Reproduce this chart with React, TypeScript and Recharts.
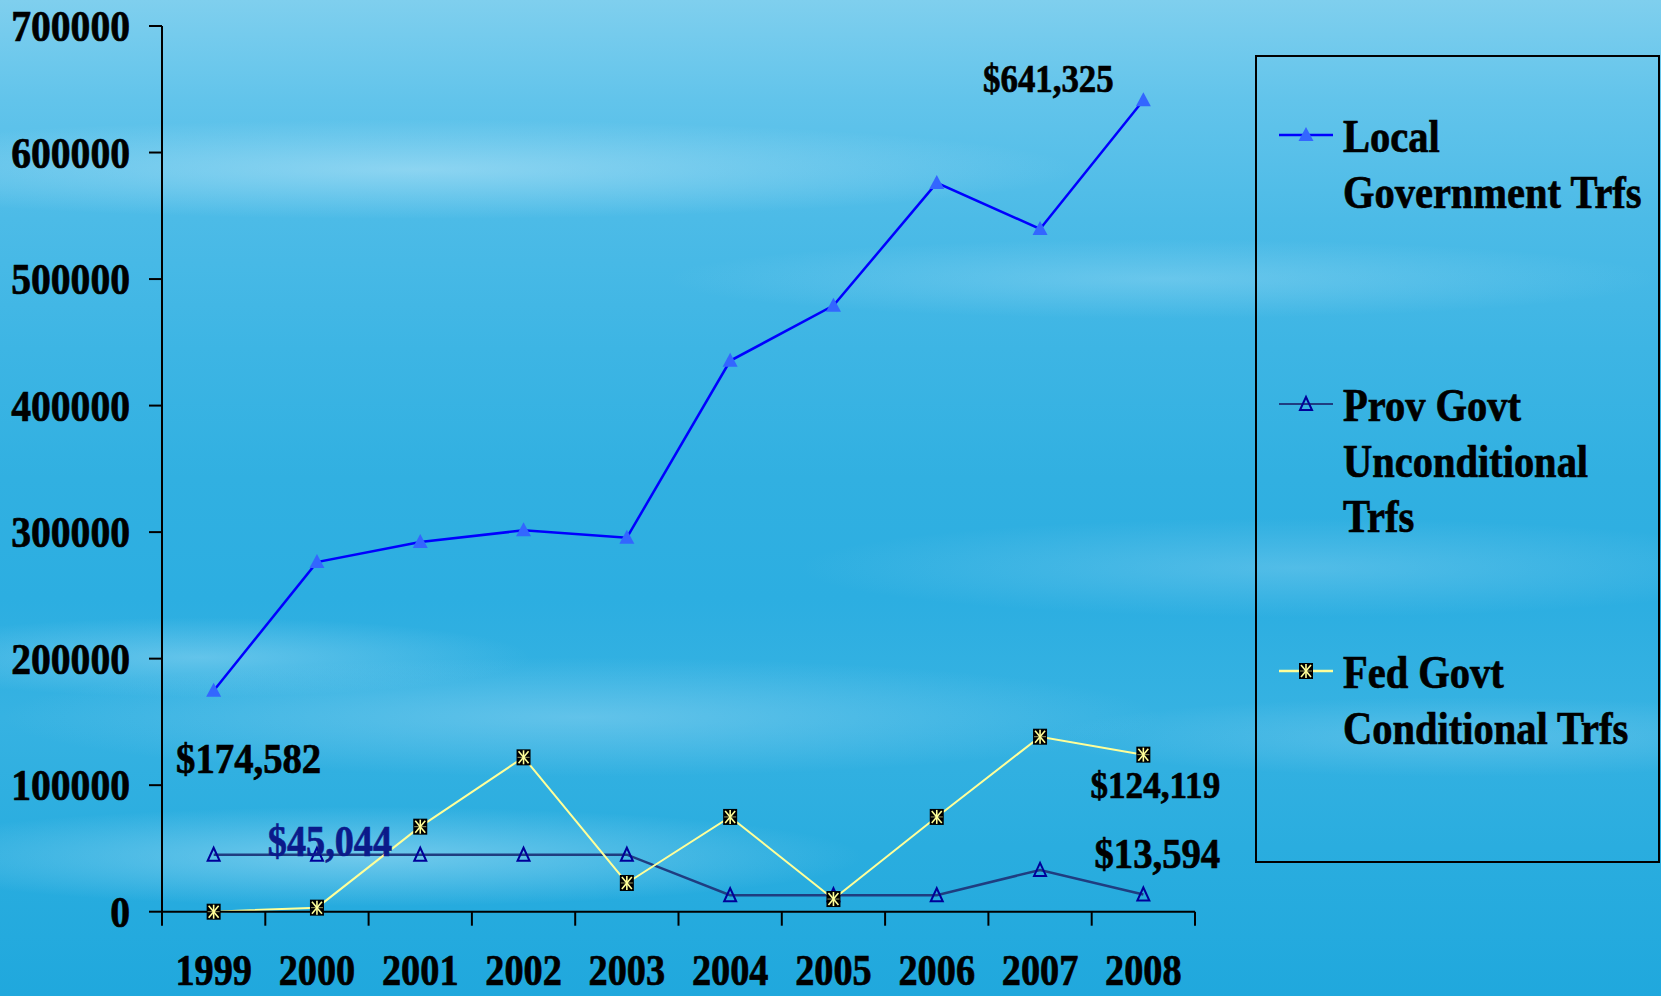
import React from 'react';
import { LineChart, Line, XAxis, YAxis, LabelList } from 'recharts';

// ---------- data ----------
const years = ['1999', '2000', '2001', '2002', '2003', '2004', '2005', '2006', '2007', '2008'];
const localGovtTrfs = [174582, 276300, 292200, 301400, 295600, 435400, 479000, 576000, 539600, 641325];
const provGovtUncondTrfs = [45044, 45044, 45044, 45044, 45044, 13000, 13000, 13000, 33000, 13594];
const fedGovtCondTrfs = [0, 3200, 67200, 122000, 22700, 74900, 10000, 74900, 138300, 124119];
const yTicks = [0, 100000, 200000, 300000, 400000, 500000, 600000, 700000];

const localLegend = ['Local', 'Government Trfs'];
const provLegend = ['Prov Govt', 'Unconditional', 'Trfs'];
const fedLegend = ['Fed Govt', 'Conditional Trfs'];

const localNotes = [
  { index: 0, text: '$174,582' },
  { index: 9, text: '$641,325' },
];
const provNotes = [
  { index: 1, text: '$45,044' },
  { index: 9, text: '$13,594' },
];
const fedNotes = [{ index: 9, text: '$124,119' }];

// ---------- layout / style ----------
const W = 1661;
const H = 996;
const PLOT_LEFT = 162;
const PLOT_RIGHT = 1195;
const PLOT_TOP = 26;
const PLOT_BOTTOM = 911.7;
const BAND = (PLOT_RIGHT - PLOT_LEFT) / years.length;
const FONT = "'Liberation Serif', 'Times New Roman', Times, serif";
const BOLD_STROKE = 0.7;

const LOCAL_LINE = '#0000ff';
const LOCAL_MARK = '#3366ff';
const PROV_LINE = '#1f3d80';
const PROV_MARK = '#000099';
const FED_LINE = '#ffff99';

// annotation styles: keyed by series & index
const noteStyle: Record<string, { dx: number; dy: number; size: number; sx: number; color: string }> = {
  'local-0': { dx: 35, dy: 82, size: 43, sx: 0.9, color: '#000' },
  'local-9': { dx: -95, dy: -8, size: 40, sx: 0.87, color: '#000' },
  'prov-1': { dx: 13, dy: 1, size: 45, sx: 0.85, color: '#0b1a8a' },
  'prov-9': { dx: 14, dy: -26, size: 43, sx: 0.9, color: '#000' },
  'fed-9': { dx: 12, dy: 43, size: 39, sx: 0.9, color: '#000' },
};

const data = years.map((y, i) => ({
  year: y,
  local: localGovtTrfs[i],
  prov: provGovtUncondTrfs[i],
  fed: fedGovtCondTrfs[i],
}));

// ---------- marker shapes ----------
const LocalMarker = ({ cx, cy }: { cx: number; cy: number }) => (
  <polygon points={`${cx},${cy - 8} ${cx + 7.5},${cy + 6} ${cx - 7.5},${cy + 6}`} fill={LOCAL_MARK} />
);
const ProvMarker = ({ cx, cy }: { cx: number; cy: number }) => (
  <polygon
    points={`${cx},${cy - 7} ${cx + 6},${cy + 6} ${cx - 6},${cy + 6}`}
    fill="none"
    stroke={PROV_MARK}
    strokeWidth={2}
  />
);
const FedMarker = ({ cx, cy }: { cx: number; cy: number }) => (
  <g>
    <rect x={cx - 7} y={cy - 8} width={14} height={16} fill="#000" />
    <line x1={cx} y1={cy - 7} x2={cx} y2={cy + 7} stroke={FED_LINE} strokeWidth={1.6} />
    <line x1={cx - 5} y1={cy - 6} x2={cx + 5} y2={cy + 6} stroke={FED_LINE} strokeWidth={1.6} />
    <line x1={cx + 5} y1={cy - 6} x2={cx - 5} y2={cy + 6} stroke={FED_LINE} strokeWidth={1.6} />
    <line x1={cx - 6} y1={cy} x2={cx + 6} y2={cy} stroke={FED_LINE} strokeWidth={1} opacity={0.6} />
  </g>
);

const makeDot = (Shape: any) => (props: any) => {
  const { cx, cy, index } = props;
  if (cx == null || cy == null) return <g key={`d-${index}`} />;
  return (
    <g key={`d-${index}`}>
      <Shape cx={cx} cy={cy} />
    </g>
  );
};

const makeNote = (series: string, notes: { index: number; text: string }[]) => (props: any) => {
  const { x, y, index } = props;
  const note = notes.find((n) => n.index === index);
  if (!note) return null;
  const st = noteStyle[`${series}-${index}`];
  return (
    <text
      key={`n-${series}-${index}`}
      transform={`translate(${x + st.dx},${y + st.dy}) scale(${st.sx},1)`}
      textAnchor="middle"
      fontFamily={FONT}
      fontWeight={700}
      fontSize={st.size}
      fill={st.color}
      stroke={st.color}
      strokeWidth={BOLD_STROKE}
    >
      {note.text}
    </text>
  );
};

// ---------- axis ticks ----------
const XTick = (props: any) => {
  const { x, y, payload } = props;
  const isLast = payload.value === years[years.length - 1];
  return (
    <g>
      <line x1={x - BAND / 2} x2={x - BAND / 2} y1={y} y2={y + 14} stroke="#000" strokeWidth={2} />
      {isLast && <line x1={x + BAND / 2} x2={x + BAND / 2} y1={y} y2={y + 14} stroke="#000" strokeWidth={2} />}
      <text
        transform={`translate(${x},${y + 73}) scale(0.87,1)`}
        textAnchor="middle"
        fontFamily={FONT}
        fontWeight={700}
        fontSize={44}
        fill="#000"
        stroke="#000"
        strokeWidth={BOLD_STROKE}
      >
        {payload.value}
      </text>
    </g>
  );
};

const YTick = (props: any) => {
  const { x, y, payload } = props;
  return (
    <text
      transform={`translate(${x},${y + 15}) scale(0.9,1)`}
      textAnchor="end"
      fontFamily={FONT}
      fontWeight={700}
      fontSize={44}
      fill="#000"
      stroke="#000"
      strokeWidth={BOLD_STROKE}
    >
      {payload.value}
    </text>
  );
};

// ---------- legend ----------
const LEG_LEFT = 1255;
const LEG_TOP = 55;
const LEG_W = 405;
const LEG_H = 808;
const legendRows = [
  { lines: localLegend, color: LOCAL_LINE, Marker: LocalMarker, y: 80, width: 2.5 },
  { lines: provLegend, color: PROV_LINE, Marker: ProvMarker, y: 349, width: 2 },
  { lines: fedLegend, color: FED_LINE, Marker: FedMarker, y: 616, width: 2.5 },
];

const LegendBox = () => (
  <svg
    width={LEG_W}
    height={LEG_H}
    style={{ position: 'absolute', left: LEG_LEFT, top: LEG_TOP, overflow: 'visible' }}
  >
    <rect x={1} y={1} width={LEG_W - 2} height={LEG_H - 2} fill="none" stroke="#000" strokeWidth={2} />
    {legendRows.map((r, i) => (
      <g key={i}>
        <line x1={24} x2={78} y1={r.y} y2={r.y} stroke={r.color} strokeWidth={r.width} />
        <r.Marker cx={51} cy={r.y} />
        {r.lines.map((t, j) => (
          <text
            key={j}
            transform={`translate(88,${r.y + 17 + j * 55.5}) scale(0.88,1)`}
            fontFamily={FONT}
            fontWeight={700}
            fontSize={46}
            fill="#000"
            stroke="#000"
            strokeWidth={BOLD_STROKE}
          >
            {t}
          </text>
        ))}
      </g>
    ))}
  </svg>
);

const background = [
  'radial-gradient(ellipse 30% 5% at 22% 86%, rgba(170,225,247,0.55), rgba(170,225,247,0) 100%)',
  'radial-gradient(ellipse 35% 6% at 35% 72%, rgba(150,215,243,0.45), rgba(150,215,243,0) 100%)',
  'radial-gradient(ellipse 20% 4% at 12% 66%, rgba(160,220,245,0.45), rgba(160,220,245,0) 100%)',
  'radial-gradient(ellipse 30% 5% at 78% 57%, rgba(150,215,243,0.35), rgba(150,215,243,0) 100%)',
  'radial-gradient(ellipse 25% 4% at 88% 74%, rgba(150,215,243,0.35), rgba(150,215,243,0) 100%)',
  'radial-gradient(ellipse 40% 5% at 25% 17%, rgba(185,230,248,0.55), rgba(185,230,248,0) 100%)',
  'radial-gradient(ellipse 30% 4% at 70% 28%, rgba(170,225,247,0.35), rgba(170,225,247,0) 100%)',
  'linear-gradient(to bottom, #7fcfee 0%, #62c4eb 10%, #4cbbe7 22%, #3db5e4 35%, #31b0e1 48%, #2caee1 60%, #36b2e2 72%, #2aaddf 85%, #20a8dd 100%)',
].join(', ');

export default function App() {
  return (
    <div
      style={{
        position: 'absolute',
        left: 0,
        top: 0,
        width: W,
        height: H,
        background,
        overflow: 'hidden',
      }}
    >
      <LineChart
        width={W}
        height={H}
        data={data}
        margin={{ top: PLOT_TOP, right: W - PLOT_RIGHT, bottom: 0, left: 0 }}
      >
        <XAxis
          dataKey="year"
          height={H - PLOT_BOTTOM}
          padding={{ left: BAND / 2, right: BAND / 2 }}
          interval={0}
          tickSize={0}
          tickMargin={0}
          tickLine={false}
          axisLine={{ stroke: '#000', strokeWidth: 2 }}
          tick={XTick}
        />
        <YAxis
          width={PLOT_LEFT}
          domain={[0, 700000]}
          ticks={yTicks}
          interval={0}
          tickSize={13}
          tickMargin={19}
          tickLine={{ stroke: '#000', strokeWidth: 2 }}
          axisLine={{ stroke: '#000', strokeWidth: 2 }}
          tick={YTick}
        />
        <Line
          dataKey="local"
          stroke={LOCAL_LINE}
          strokeWidth={2.5}
          dot={makeDot(LocalMarker)}
          activeDot={false}
          isAnimationActive={false}
        >
          <LabelList dataKey="local" content={makeNote('local', localNotes)} />
        </Line>
        <Line
          dataKey="prov"
          stroke={PROV_LINE}
          strokeWidth={2.5}
          dot={makeDot(ProvMarker)}
          activeDot={false}
          isAnimationActive={false}
        >
          <LabelList dataKey="prov" content={makeNote('prov', provNotes)} />
        </Line>
        <Line
          dataKey="fed"
          stroke={FED_LINE}
          strokeWidth={2}
          dot={makeDot(FedMarker)}
          activeDot={false}
          isAnimationActive={false}
        >
          <LabelList dataKey="fed" content={makeNote('fed', fedNotes)} />
        </Line>
      </LineChart>
      <LegendBox />
    </div>
  );
}
